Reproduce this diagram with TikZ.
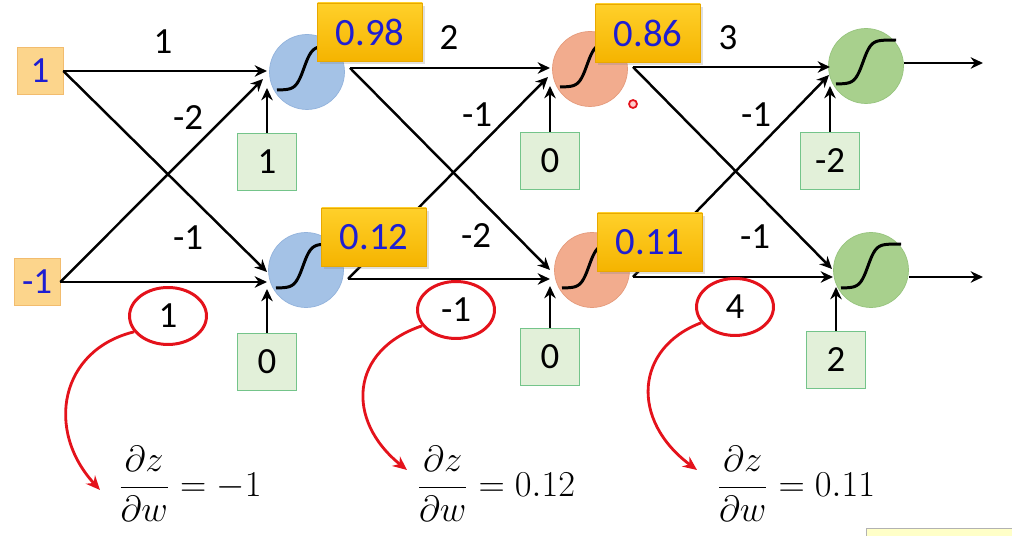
\documentclass[tikz,border=0pt]{standalone}
\usepackage{amsmath}
\usepackage{fontspec}
\setmainfont{Carlito}
\usepackage{tikz}
\usetikzlibrary{arrows.meta,shapes,shadows}
\definecolor{inorange}{HTML}{FCD58C}
\definecolor{inedge}{HTML}{F2BC6E}
\definecolor{numblue}{HTML}{1E1ED2}
\definecolor{goldtop}{HTML}{FFD02A}
\definecolor{goldbot}{HTML}{F5B400}
\definecolor{goldedge}{HTML}{E8A800}
\definecolor{biasfill}{HTML}{E2F0D9}
\definecolor{biasedge}{HTML}{74C48A}
\definecolor{blueunit}{HTML}{A4C2E6}
\definecolor{blueedge}{HTML}{93B3DC}
\definecolor{orangeunit}{HTML}{F2AC8E}
\definecolor{orangeedge}{HTML}{E59B7C}
\definecolor{greenunit}{HTML}{A8D08D}
\definecolor{greenedge}{HTML}{97C47E}
\definecolor{markred}{HTML}{E4121B}
\definecolor{notefill}{HTML}{FFFFC8}
\tikzstyle{input}=[rectangle,fill=inorange,draw=inedge,text=numblue,inner sep=0pt,minimum width=0.92cm,minimum height=0.94cm,font=\fontsize{21}{25}\selectfont]
\tikzstyle{activ}=[rectangle,top color=goldtop,bottom color=goldbot,draw=goldedge,text=numblue,inner sep=0pt,minimum width=2.1cm,minimum height=1.16cm,drop shadow={shadow xshift=1.5pt,shadow yshift=-1.5pt,opacity=0.25},font=\fontsize{22}{26}\selectfont]
\tikzstyle{bias}=[rectangle,fill=biasfill,draw=biasedge,inner sep=0pt,minimum width=1.18cm,minimum height=1.15cm,font=\fontsize{21}{25}\selectfont]
\tikzstyle{unit}=[circle,inner sep=0pt,minimum size=1.5cm]
\tikzstyle{weight}=[font=\fontsize{21}{25}\selectfont]
\tikzstyle{grad}=[ellipse,draw=markred,line width=1.7pt,inner sep=0pt,minimum width=1.54cm,minimum height=1.14cm,font=\fontsize{21}{25}\selectfont]
\tikzstyle{deriv}=[font=\fontsize{20}{24}\selectfont]
\tikzstyle{wire}=[line width=1.4pt,-{Stealth[length=7pt,width=6.5pt]}]
\tikzstyle{sig}=[line width=1.7pt]
\tikzstyle{back}=[draw=markred,line width=1.6pt,-{Stealth[length=8pt,width=7pt]}]

\begin{document}
\begin{tikzpicture}[x=0.02cm,y=-0.02cm]
		\useasboundingbox (0,0) rectangle (1012,536);

		% neurons
		\node[unit,fill=blueunit,draw=blueedge] (h11) at (307,72) {};
		\node[unit,fill=blueunit,draw=blueedge] (h12) at (306,270) {};
		\node[unit,fill=orangeunit,draw=orangeedge] (h21) at (590,69) {};
		\node[unit,fill=orangeunit,draw=orangeedge] (h22) at (592,270) {};
		\node[unit,fill=greenunit,draw=greenedge] (o1) at (866,66) {};
		\node[unit,fill=greenunit,draw=greenedge] (o2) at (871,270) {};
		\foreach \n in {h11,h12,h21,h22,o1,o2}
			\draw[sig,shift={(\n)}] plot[domain=-30:30,samples=40,smooth]
				({\x},{-4-22*tanh((\x+3)/8)});

		% inputs and biases
		\node[input] (x1) at (40,71) {1};
		\node[input] (x2) at (37,282) {-1};
		\node[bias] (b11) at (267,162) {1};
		\node[bias] (b12) at (267,362) {0};
		\node[bias] (b21) at (550,161) {0};
		\node[bias] (b22) at (550,357) {0};
		\node[bias] (b31) at (830,161) {-2};
		\node[bias] (b32) at (836,360) {2};

		% arrow ends
		\coordinate (h11a) at (267,71);
		\coordinate (h11b) at (263,79);
		\coordinate (h11c) at (267,88);
		\coordinate (h12a) at (267,272);
		\coordinate (h12b) at (267,282);
		\coordinate (h12c) at (267,289);
		\coordinate (h11o) at (350,68);
		\coordinate (h12o) at (348,279);
		\coordinate (h21a) at (550,68);
		\coordinate (h21b) at (548,77);
		\coordinate (h21c) at (550,86);
		\coordinate (h22a) at (550,270);
		\coordinate (h22b) at (550,279);
		\coordinate (h22c) at (550,286);
		\coordinate (h21o) at (633,67);
		\coordinate (h22o) at (633,277);
		\coordinate (o1a) at (830,67);
		\coordinate (o1b) at (829,75);
		\coordinate (o1c) at (830,86);
		\coordinate (o2a) at (832,269);
		\coordinate (o2b) at (833,277);
		\coordinate (o2c) at (836,287);
		\coordinate (o1o) at (904,63);
		\coordinate (o2o) at (909,277);
		\coordinate (y1) at (983,63);
		\coordinate (y2) at (983,277);

		% layer 1
		\draw[wire] (x1.east) -- (h11a);
		\draw[wire] (x1.east) -- (h12a);
		\draw[wire] (x2.east) -- (h11b);
		\draw[wire] (x2.east) -- (h12b);
		\draw[wire] (b11.north) -- (h11c);
		\draw[wire] (b12.north) -- (h12c);

		% layer 2
		\draw[wire] (h11o) -- (h21a);
		\draw[wire] (h11o) -- (h22a);
		\draw[wire] (h12o) -- (h21b);
		\draw[wire] (h12o) -- (h22b);
		\draw[wire] (b21.north) -- (h21c);
		\draw[wire] (b22.north) -- (h22c);

		% layer 3
		\draw[wire] (h21o) -- (o1a);
		\draw[wire] (h21o) -- (o2a);
		\draw[wire] (h22o) -- (o1b);
		\draw[wire] (h22o) -- (o2b);
		\draw[wire] (b31.north) -- (o1c);
		\draw[wire] (b32.north) -- (o2c);
		\draw[wire] (o1o) -- (y1);
		\draw[wire] (o2o) -- (y2);

		% weights
		\node[weight] (w1) at (163,42) {1};
		\node[weight] (w2) at (188,118) {-2};
		\node[weight] (w3) at (188,238) {-1};
		\node[weight] (w4) at (449,38) {2};
		\node[weight] (w5) at (477,115) {-1};
		\node[weight] (w6) at (476,236) {-2};
		\node[weight] (w7) at (728,38) {3};
		\node[weight] (w8) at (756,115) {-1};
		\node[weight] (w9) at (755,237) {-1};

		% activations
		\node[activ] (a11) at (370,32) {0.98};
		\node[activ] (a12) at (374,237) {0.12};
		\node[activ] (a21) at (648,33) {0.86};
		\node[activ] (a22) at (650,242) {0.11};

		% gradients
		\node[grad] (e1) at (168,316) {1};
		\node[grad] (e2) at (456,310) {-1};
		\node[grad] (e3) at (735,307) {4};
		\node[deriv] (f1) at (190,484) {$\dfrac{\partial z}{\partial w} = -1$};
		\node[deriv] (f2) at (496,484) {$\dfrac{\partial z}{\partial w} = 0.12$};
		\node[deriv] (f3) at (796,484) {$\dfrac{\partial z}{\partial w} = 0.11$};
		\coordinate (d1) at (100,490);
		\coordinate (d2) at (407,470);
		\coordinate (d3) at (697,470);
		\draw[back] (e1.205) .. controls (60,350) and (45,430) .. (d1);
		\draw[back] (e2.205) .. controls (350,350) and (345,420) .. (d2);
		\draw[back] (e3.205) .. controls (635,348) and (630,420) .. (d3);

		% pointer and note
		\node[circle,draw=markred,fill=red!20,line width=1pt,inner sep=0pt,minimum size=0.16cm] (dot) at (633,104) {};
		\fill[notefill] (866,528) rectangle (1012,536);
		\draw[gray!60] (866,536) |- (1012,528);
	\end{tikzpicture}
\end{document}
